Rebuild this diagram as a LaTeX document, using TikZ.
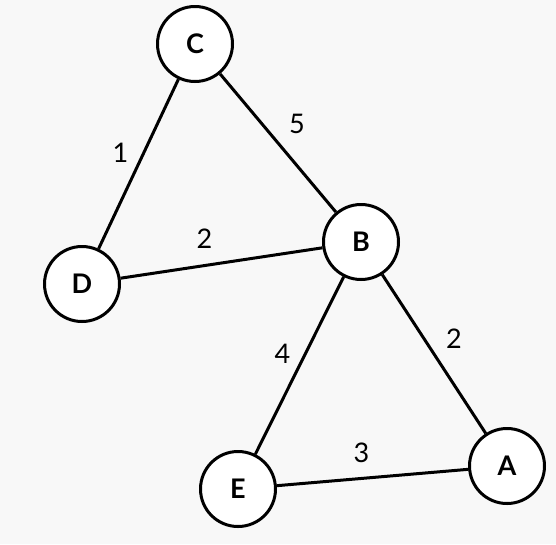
\documentclass[tikz,border=0pt]{standalone}
\usepackage{fontspec}
\setmainfont{Lato}
\usetikzlibrary{positioning}
\definecolor{bg}{HTML}{F8F8F8}

\begin{document}
\begin{tikzpicture}[x=1pt,y=-1pt,font=\fontsize{27}{30}\selectfont]
\tikzstyle{vtx}=[draw,circle,line width=3pt,minimum size=75pt,inner sep=0pt,fill=white,font=\fontsize{27}{30}\selectfont\bfseries]
\tikzstyle{wt}=[inner sep=0pt]
\fill[bg] (0,0) rectangle (556,544);
\useasboundingbox (0,0) rectangle (556,544);
\node[vtx] (c) at (195,44) {C};
\node[vtx] (b) at (361,242) {B};
\node[vtx] (d) at (82,284) {D};
\node[vtx] (e) at (238,489) {E};
\node[vtx] (a) at (507,466) {A};
% edges with weights
\draw[line width=3pt] (c) -- node[wt,xshift=19pt,yshift=19pt]{5} (b);
\draw[line width=3pt] (c) -- node[wt,xshift=-18pt,yshift=11pt]{1} (d);
\draw[line width=3pt] (d) -- node[wt,xshift=-17pt,yshift=24pt]{2} (b);
\draw[line width=3pt] (b) -- node[wt,xshift=-17pt,yshift=12pt]{4} (e);
\draw[line width=3pt] (b) -- node[wt,xshift=20pt,yshift=15pt]{2} (a);
\draw[line width=3pt] (e) -- node[wt,xshift=-11pt,yshift=25pt]{3} (a);
\end{tikzpicture}
\end{document}
